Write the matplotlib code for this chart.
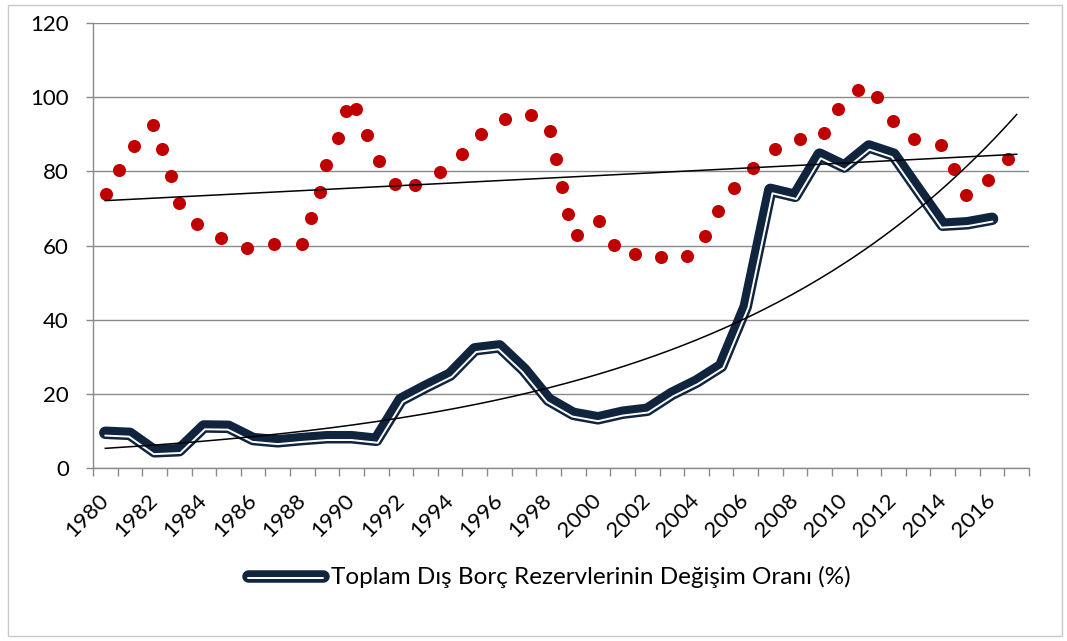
import numpy as np
import matplotlib
matplotlib.use("Agg")
import matplotlib.pyplot as plt
import matplotlib.patheffects as pe
from matplotlib.lines import Line2D
from matplotlib.legend_handler import HandlerTuple
from matplotlib.patches import Rectangle

plt.rcParams['font.family'] = ['Lato', 'DejaVu Sans']

# yearly series (line)
years = np.arange(1980, 2017)
debt_rate = [9.5, 9.2, 4.5, 4.8, 11.2, 11.1, 7.8, 7.2, 7.8, 8.3,
             8.3, 7.6, 18.4, 21.9, 25.2, 32.0, 32.8, 26.5, 18.4, 14.6,
             13.4, 14.9, 15.7, 20.0, 23.3, 27.5, 43.5, 75.0, 73.4, 84.5,
             81.3, 86.7, 84.5, 75.0, 65.6, 66.0, 67.2]

# red dotted series (scatter)
dot_x = [1980.02, 1980.57, 1981.18, 1981.95, 1982.32, 1982.65, 1982.99, 1983.71, 1984.68, 1985.75,
         1986.84, 1987.97, 1988.35, 1988.70, 1988.97, 1989.43, 1989.79, 1990.19, 1990.64, 1991.11,
         1991.75, 1992.59, 1993.60, 1994.47, 1995.27, 1996.22, 1997.28, 1998.07, 1998.31, 1998.56,
         1998.77, 1999.13, 2000.03, 2000.67, 2001.52, 2002.58, 2003.62, 2004.34, 2004.86, 2005.54,
         2006.31, 2007.19, 2008.22, 2009.17, 2009.75, 2010.55, 2011.33, 2011.96, 2012.83, 2013.92,
         2014.46, 2014.96, 2015.85, 2016.65]
dot_y = [73.8, 80.4, 86.8, 92.5, 86.1, 78.7, 71.4, 65.7, 62.1, 59.2,
         60.4, 60.3, 67.3, 74.5, 81.8, 89.0, 96.2, 96.9, 89.9, 82.9,
         76.5, 76.2, 79.8, 84.7, 90.1, 94.2, 95.3, 90.9, 83.4, 75.9,
         68.5, 62.7, 66.6, 60.1, 57.8, 56.9, 57.3, 62.5, 69.3, 75.5,
         81.0, 85.9, 88.7, 90.3, 96.9, 102.0, 100.1, 93.6, 88.8, 87.2,
         80.6, 73.6, 77.7, 83.3]

# trend lines
trend_years = [1980, 2017]
lin_trend = [72.1, 84.6]
exp_a, exp_b = 5.3, 0.0781

label_years = list(range(1980, 2017, 2))
legend_label = "Toplam Dış Borç Rezervlerinin Değişim Oranı (%)"

navy = '#10243e'
red = '#c00000'
gray = '#8a8a8a'

W, H = 1067, 641
fig = plt.figure(figsize=(W / 100, H / 100), dpi=100)
ax = fig.add_axes([93 / W, 1 - 468 / H, (1029 - 93) / W, (468 - 23) / H])
ax.set_xlim(1979.5, 2017.5)
ax.set_ylim(0, 120)


def offset_line(xs, ys, dist_px):
    # shift a polyline sideways (below) by dist_px pixels, like a compound line
    pts = ax.transData.transform(np.column_stack([xs, ys]))
    d = np.diff(pts, axis=0)
    d /= np.hypot(d[:, 0], d[:, 1])[:, None]
    n = np.column_stack([d[:, 1], -d[:, 0]])
    vn = np.empty_like(pts)
    vn[0], vn[-1] = n[0], n[-1]
    m = n[:-1] + n[1:]
    m /= np.hypot(m[:, 0], m[:, 1])[:, None]
    cos = np.sum(m * n[1:], axis=1)
    vn[1:-1] = m / np.maximum(cos, 0.3)[:, None]
    return ax.transData.inverted().transform(pts + vn * dist_px)


# compound navy line
ax.plot(years, debt_rate, color=navy, lw=9.0, solid_capstyle='round',
        solid_joinstyle='round', zorder=3)
inner = offset_line(years, debt_rate, 2.8)
ax.plot(inner[:, 0], inner[:, 1], color='white', lw=1.4, solid_capstyle='round',
        solid_joinstyle='round', zorder=4)

# red dots
ax.plot(dot_x, dot_y, 'o', color=red, ms=9.4, mec='none', zorder=5)

# trend lines
ax.plot(trend_years, lin_trend, color='black', lw=1.1, zorder=6)
tx = np.linspace(trend_years[0], trend_years[1], 200)
ax.plot(tx, exp_a * np.exp(exp_b * (tx - 1980)), color='black', lw=1.1, zorder=6)

# axes styling
for s in ['top', 'right']:
    ax.spines[s].set_visible(False)
for s in ['left', 'bottom']:
    ax.spines[s].set_color(gray)
    ax.spines[s].set_linewidth(1.0)
ax.set_yticks(range(0, 121, 20))
ax.yaxis.grid(True, color=gray, lw=1.0)
ax.set_axisbelow(True)
ax.tick_params(axis='y', direction='out', length=5.3, width=1, color=gray,
               labelsize=16, pad=12, labelcolor='black')

ax.set_xticks(np.arange(1979.5, 2018, 1.0))
ax.set_xticklabels([])
ax.tick_params(axis='x', which='major', direction='out', length=5.5, width=1, color=gray)
ax.set_xticks(label_years, labels=[str(y) for y in label_years], minor=True)
ax.tick_params(axis='x', which='minor', length=0, pad=21, labelsize=16)
for t in ax.get_xticklabels(minor=True):
    t.set_rotation(45)
    t.set_ha('right')
    t.set_va('center')
    t.set_rotation_mode('anchor')

# legend
h1 = Line2D([], [], color=navy, lw=9.0, solid_capstyle='round')
h2 = Line2D([], [], color='white', lw=1.4, solid_capstyle='round',
            path_effects=[pe.Stroke(offset=(0, -2.0))])
fig.legend([(h1, h2)], [legend_label], handler_map={tuple: HandlerTuple(ndivide=1)},
           loc='center', bbox_to_anchor=(549 / W, 1 - 577 / H), frameon=False,
           fontsize=17.5, handlelength=3.1, handletextpad=0.3)

# chart border
fig.add_artist(Rectangle((7.5 / W, 1 - 636 / H), (1062 - 7.5) / W, (636 - 5) / H,
                         transform=fig.transFigure, fill=False, ec='#c8c8c8', lw=1))

fig.savefig('out.png', dpi=100)
